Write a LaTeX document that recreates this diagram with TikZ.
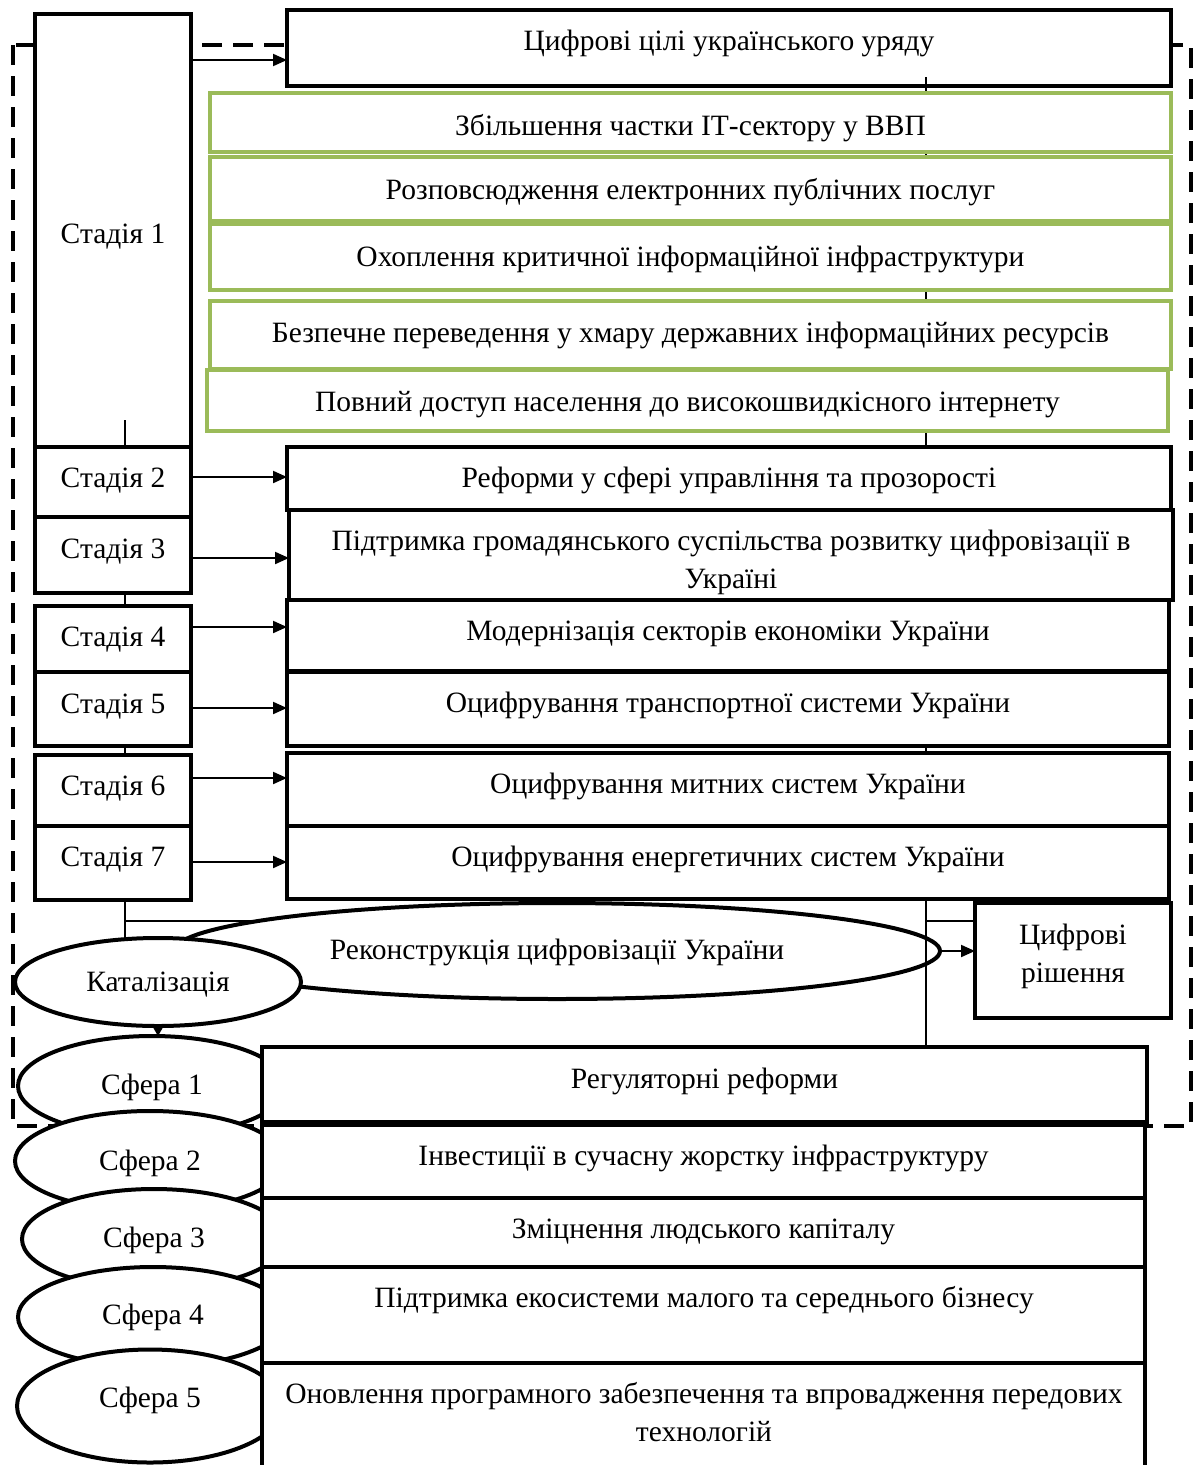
\documentclass[tikz,border=0pt]{standalone}
\usepackage{fontspec}
\setmainfont{Liberation Serif}
\usetikzlibrary{shapes.geometric,arrows.meta}
\definecolor{grn}{HTML}{9BBB59}
\begin{document}
\begin{tikzpicture}[x=1pt,y=-1pt,
 font=\fontsize{29.5}{38}\selectfont,
 base/.style={inner sep=0pt,outer sep=0pt,fill=white},
 ctr/.style={text height=#1,text depth=7pt},
 ctr/.default=20pt,
 upr/.style={text height=#1,text depth=16pt},
 upr/.default=20pt,
 bbox/.style={base,draw=black,line width=4pt,rectangle},
 gbox/.style={base,draw=grn,line width=4pt,rectangle},
 ell/.style={base,draw=black,line width=4pt,ellipse},
 txt/.style={inner sep=0pt,align=center},
 thin/.style={line width=2pt},
 arr/.style={line width=2pt,-{Triangle[length=14pt,width=12pt]}},
 dashbox/.style={line width=4pt,dash pattern=on 20pt off 11pt}]
\useasboundingbox (0,0) rectangle (1198,1465);
\draw[dashbox] (13,45) rectangle (1191,1126);

% top box and stage 1
\node[bbox,minimum width=884pt,minimum height=76pt] (top) at (729,48) {};
\node[txt,ctr] (topt) at (729,44) {Цифрові цілі українського уряду};
\node[bbox,ctr=30pt,minimum width=156pt,minimum height=436pt] (st1) at (113,232) {Стадія 1};

% spine lines
\coordinate (spA) at (926,77);
\coordinate (spB) at (926,1046);
\draw[thin] (spA) -- (spB);
\coordinate (c1) at (125,420);
\coordinate (c2) at (125,960);
\draw[thin] (c1) -- (c2);
\coordinate (h1) at (125,921);
\coordinate (h2) at (266,921);
\draw[thin] (h1) -- (h2);
\coordinate (h3) at (926,921);
\coordinate (h4) at (975,921);
\draw[thin] (h3) -- (h4);

% green boxes
\node[gbox,ctr=32pt,minimum width=961pt,minimum height=59pt] (g1) at (690.5,122.5) {Збільшення частки ІТ-сектору у ВВП};
\node[gbox,ctr=28pt,minimum width=961pt,minimum height=64pt] (g2) at (690.5,189) {Розповсюдження електронних публічних послуг};
\node[gbox,ctr=26pt,minimum width=961pt,minimum height=66pt] (g3) at (690.5,257) {Охоплення критичної інформаційної інфраструктури};
\node[gbox,ctr=22pt,minimum width=961pt,minimum height=68pt] (g4) at (690.5,335) {Безпечне переведення у хмару державних інформаційних ресурсів};
\node[gbox,ctr=28pt,minimum width=961pt,minimum height=61pt] (g5) at (687.5,400.5) {Повний доступ населення до високошвидкісного інтернету};

% black boxes
\node[bbox,upr=34pt,minimum width=884pt,minimum height=63pt] (b2) at (729,478.5) {Реформи у сфері управління та прозорості};
\node[bbox,minimum width=884pt,minimum height=90pt] (b3) at (731,555) {};
\node[txt] (b3t) at (731,562) {Підтримка громадянського суспільства розвитку цифровізації в\\Україні};
\node[bbox,upr=26pt,minimum width=882pt,minimum height=71pt] (b4) at (728,635.5) {Модернізація секторів економіки України};
\node[bbox,upr=22pt,minimum width=882pt,minimum height=74pt] (b5) at (728,709) {Оцифрування транспортної системи України};
\node[bbox,upr=24pt,minimum width=882pt,minimum height=73pt] (b6) at (728,789.5) {Оцифрування митних систем України};
\node[bbox,upr=24pt,minimum width=882pt,minimum height=73pt] (b7) at (728,862.5) {Оцифрування енергетичних систем України};

% stages 2-7
\node[bbox,upr=26pt,minimum width=156pt,minimum height=70pt] (st2) at (113,482) {Стадія 2};
\node[bbox,upr=22pt,minimum width=156pt,minimum height=76pt] (st3) at (113,555) {Стадія 3};
\node[bbox,upr=30pt,minimum width=156pt,minimum height=66pt] (st4) at (113,639) {Стадія 4};
\node[bbox,upr=24pt,minimum width=156pt,minimum height=74pt] (st5) at (113,709) {Стадія 5};
\node[bbox,upr=26pt,minimum width=156pt,minimum height=71pt] (st6) at (113,790.5) {Стадія 6};
\node[bbox,upr=22pt,minimum width=156pt,minimum height=74pt] (st7) at (113,863) {Стадія 7};

% arrows stages -> boxes
\draw[arr] (st1.east |- 0,60) -- (top.west |- 0,60);
\draw[arr] (st2.east |- 0,477) -- (b2.west |- 0,477);
\draw[arr] (st3.east |- 0,558) -- (b3.west |- 0,558);
\draw[arr] (st4.east |- 0,627) -- (b4.west |- 0,627);
\draw[arr] (st5.east |- 0,708) -- (b5.west |- 0,708);
\draw[arr] (st6.east |- 0,778) -- (b6.west |- 0,778);
\draw[arr] (st7.east |- 0,862) -- (b7.west |- 0,862);

% digital solutions
\node[bbox,minimum width=196pt,minimum height=115pt] (dig) at (1073,960.5) {};
\node[txt] (digt) at (1073,956) {Цифрові\\рішення};

% ellipses
\node[ell,ctr=24pt,fill=none,minimum width=766pt,minimum height=96pt] (rec) at (557,951) {Реконструкція цифровізації України};
\draw[arr] (rec.east) -- (dig.west |- rec.east);
\node[ell,ctr=26pt,minimum width=286pt,minimum height=88pt] (kat) at (158,982) {Каталізація};

% spheres
\node[ell,ctr=24pt,minimum width=268pt,minimum height=100pt] (s1) at (152,1086) {Сфера 1};
\node[ell,ctr=26pt,minimum width=270pt,minimum height=100pt] (s2) at (150,1161) {Сфера 2};
\node[ell,ctr=24pt,minimum width=264pt,minimum height=100pt] (s3) at (154,1239) {Сфера 3};
\node[ell,ctr=22pt,minimum width=270pt,minimum height=100pt] (s4) at (153,1317) {Сфера 4};
\node[ell,text height=26pt,text depth=23pt,minimum width=266pt,minimum height=113pt] (s5) at (150,1406) {Сфера 5};
\draw[line width=2pt,-{Triangle[length=10pt,width=11pt]}] (kat.south) -- (kat.south |- s1.north);

% bottom boxes
\node[bbox,upr=24pt,minimum width=885pt,minimum height=75pt] (r1) at (704.5,1084.5) {Регуляторні реформи};
\node[bbox,upr=24pt,minimum width=883pt,minimum height=73pt] (r2) at (703.5,1161.5) {Інвестиції в сучасну жорстку інфраструктуру};
\node[bbox,upr=28pt,minimum width=883pt,minimum height=69pt] (r3) at (703.5,1232.5) {Зміцнення людського капіталу};
\node[bbox,minimum width=883pt,minimum height=96pt] (r4) at (703.5,1315) {};
\node[txt,ctr] (r4t) at (704,1301) {Підтримка екосистеми малого та середнього бізнесу};
\node[bbox,minimum width=883pt,minimum height=127pt] (r5) at (703.5,1426.5) {};
\node[txt] (r5t) at (704,1412) {Оновлення програмного забезпечення та впровадження передових\\технологій};
\end{tikzpicture}
\end{document}
